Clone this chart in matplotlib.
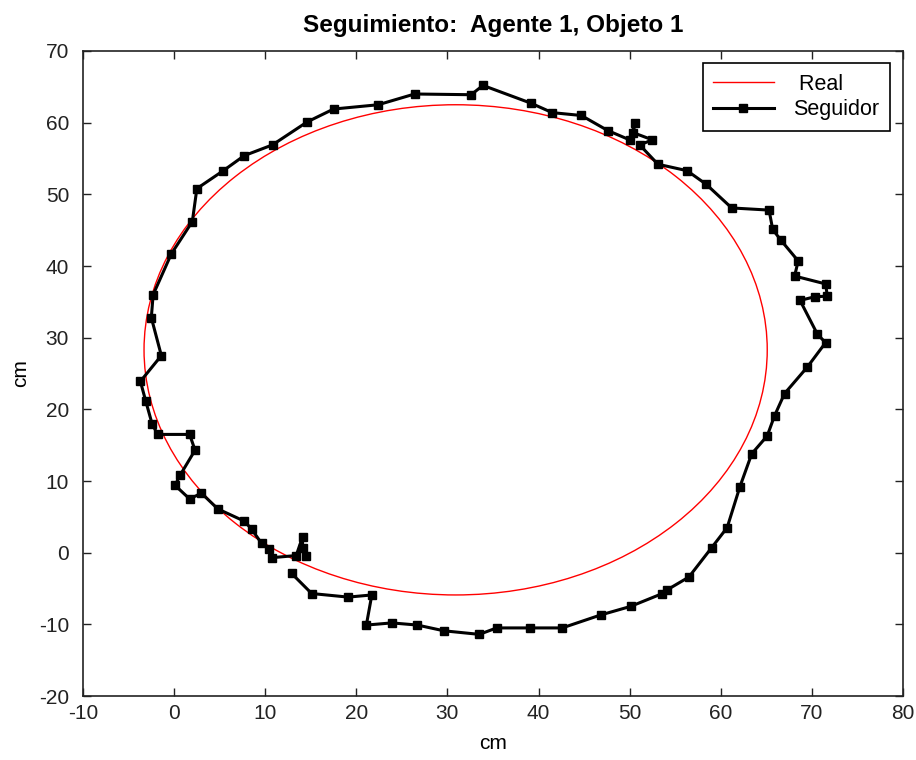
import matplotlib
matplotlib.use("Agg")
from matplotlib import pyplot as plt
from matplotlib.patches import Ellipse
from matplotlib.lines import Line2D

# real trajectory (circle)
real_center = (30.9, 28.3)
real_radius = 34.2

# follower trajectory, in cm
seg_x = [12.9, 15.1, 19.1, 21.7, 21.1, 23.9, 26.7, 29.6, 33.5, 35.4,
         39.1, 42.6, 46.8, 50.1, 53.6, 54.1, 56.5, 59.0, 60.7, 62.1,
         63.4, 65.1, 65.9, 67.0, 69.5, 71.5, 70.6, 68.7, 70.3, 71.7,
         71.5, 68.1, 68.5, 66.6, 65.7, 65.3, 61.2, 58.4, 56.3, 53.1,
         51.1, 52.5, 50.4, 50.6, 50.0, 47.6, 44.7, 41.5, 39.2, 33.9,
         32.6, 26.4, 22.4, 17.5, 14.6, 10.8, 7.7, 5.4, 2.5, 2.0,
         -0.3, -2.3, -2.5, -1.4, -3.7, -3.1, -2.4, -1.8, 1.7, 2.3,
         0.7, 0.1, 1.7, 3.0, 4.8, 7.7, 8.5, 9.6, 10.4, 10.7,
         13.4, 14.1, 14.1, 14.5]
seg_y = [-2.9, -5.7, -6.2, -5.9, -10.1, -9.8, -10.1, -10.9, -11.4, -10.5,
         -10.5, -10.5, -8.7, -7.5, -5.7, -5.2, -3.4, 0.7, 3.5, 9.2,
         13.8, 16.3, 19.1, 22.2, 25.9, 29.3, 30.5, 35.2, 35.7, 35.8,
         37.5, 38.6, 40.7, 43.6, 45.1, 47.8, 48.1, 51.4, 53.3, 54.2,
         56.9, 57.6, 58.6, 60.0, 57.6, 58.9, 61.0, 61.4, 62.7, 65.2,
         63.9, 64.0, 62.5, 61.9, 60.1, 56.9, 55.4, 53.3, 50.8, 46.2,
         41.7, 36.0, 32.8, 27.5, 23.9, 21.1, 17.9, 16.5, 16.5, 14.3,
         10.9, 9.4, 7.5, 8.3, 6.1, 4.4, 3.3, 1.3, 0.5, -0.7,
         -0.4, 2.2, 0.6, -0.4]

xticks = list(range(-10, 81, 10))
yticks = list(range(-20, 71, 10))

plt.rcParams["font.family"] = ["Liberation Sans", "DejaVu Sans"]
plt.rcParams["axes.unicode_minus"] = False

fig = plt.figure(figsize=(9.16, 7.6), dpi=100)
ax = fig.add_axes([0.0906, 0.0842, 0.8952, 0.8487])

circ = Ellipse(real_center, 2 * real_radius, 2 * real_radius,
               fill=False, edgecolor="red", linewidth=1.0)
ax.add_patch(circ)
ax.plot(seg_x, seg_y, "-s", color="black", linewidth=2.2,
        markersize=5.5, markerfacecolor="black", markeredgecolor="black")

ax.set_xlim(-10, 80)
ax.set_ylim(-20, 70)
ax.set_xticks(xticks)
ax.set_yticks(yticks)
ax.tick_params(direction="in", top=True, right=True, labelsize=15,
               length=6, width=1.0, colors="#222222")
ax.tick_params(axis="y", pad=10)
ax.tick_params(axis="x", pad=6)
for s in ax.spines.values():
    s.set_linewidth(1.2)
    s.set_color("#222222")

ax.set_xlabel("cm", fontsize=15, labelpad=8)
ax.set_ylabel("cm", fontsize=15, labelpad=6)
ax.set_title("Seguimiento:  Agente 1, Objeto 1", fontsize=17.5,
             fontweight="bold", pad=14)

handles = [Line2D([], [], color="red", linewidth=1.0),
           Line2D([], [], color="black", linewidth=2.2, marker="s",
                  markersize=5.5)]
leg = ax.legend(handles, [" Real", "Seguidor"], loc="upper right",
                fontsize=15.5, fancybox=False, framealpha=1,
                edgecolor="black", borderpad=0.5, labelspacing=0.2,
                handlelength=2.8, handletextpad=0.9, borderaxespad=0,
                bbox_to_anchor=(0.984, 0.981))
leg.get_frame().set_linewidth(1.2)

plt.savefig("out.png", dpi=100)
